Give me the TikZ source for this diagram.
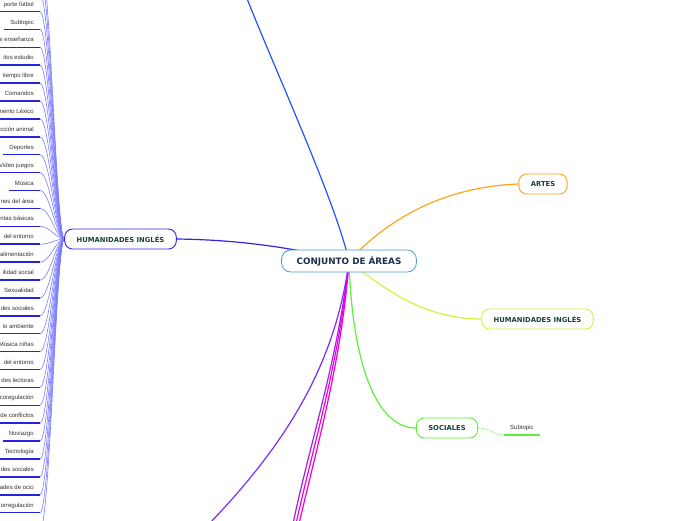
\documentclass[tikz,border=0pt]{standalone}
\usepackage{fontspec}
\setmainfont{DejaVu Sans}
\newfontfamily\subfont{Liberation Sans}
\usetikzlibrary{backgrounds}
\definecolor{rootline}{HTML}{4A9AD8}
\definecolor{roottext}{HTML}{1C2E4A}
\definecolor{topictext}{HTML}{17423A}
\definecolor{subtext}{HTML}{333333}
\definecolor{humblue}{HTML}{3322E8}
\definecolor{topblue}{HTML}{1F55FF}
\definecolor{artorange}{HTML}{FFA31A}
\definecolor{humyellow}{HTML}{D6F23A}
\definecolor{socgreen}{HTML}{5CF03A}
\definecolor{twigblue}{HTML}{7C7CFF}
\definecolor{subblue}{HTML}{2424E0}
\definecolor{magline}{HTML}{F000D8}
\definecolor{violine}{HTML}{7B2CFF}

\begin{document}
\begin{tikzpicture}[
  x=1pt,y=-1pt,
  root/.style={draw=rootline,line width=.8pt,fill=white,rounded corners=9pt,inner xsep=15pt,minimum height=22pt,text=roottext,font=\bfseries\fontsize{8.8}{10}\selectfont},
  topic/.style={draw,line width=.9pt,fill=white,rounded corners=8pt,inner xsep=12pt,minimum height=20pt,text=topictext,font=\bfseries\fontsize{6.8}{8}\selectfont},
  sub/.style={inner xsep=6pt,inner ysep=4pt,text height=4.4pt,text depth=1.2pt,text=subtext,font=\subfont\fontsize{6}{7}\selectfont},
  branch/.style={line width=1.2pt},
  twig/.style={line width=.6pt,draw=twigblue},
  subline/.style={line width=1.5pt,draw=subblue}
]
  \useasboundingbox (0,0) rectangle (696,520);

  \node[root] (root) at (349,261) {CONJUNTO DE ÁREAS};
  \node[topic,draw=humblue] (hum) at (120.5,239) {HUMANIDADES INGLÉS};
  \node[topic,draw=artorange] (art) at (543,184) {ARTES};
  \node[topic,draw=humyellow] (humr) at (537.5,319) {HUMANIDADES INGLÉS};
  \node[topic,draw=socgreen] (soc) at (447,428) {SOCIALES};
  \node[sub,anchor=south west] (socsub) at (504,435) {Subtopic};
  \draw[subline,draw=socgreen] (socsub.south west) -- (socsub.south east);

  \foreach \t [count=\i] in {porte fútbol,Subtopic,e enseñanza,itos estudio,tiempo libre,Comandos,mento Léxico,cción animal,Deportes,Video juegos,Música,nes del área,ritas básicas,del entorno,alimentación,ilidad social,Sexualidad,des sociales,io ambiente,Música niñas,del entorno,des lectoras,coregulación,de conflictos,Noviazgo,Tecnología,des sociales,ades de ocio,orregulación}
  {
    \node[sub,anchor=south east] (s\i) at (40,{11.5+17.9*(\i-1)}) {\t};
    \draw[subline] (s\i.south west) -- (s\i.south east);
  }

  \coordinate (offtop1) at (40,-6);
  \coordinate (offtop2) at (40,-24);
  \coordinate (offtop3) at (40,-42);
  \coordinate (offbot) at (40,530);
  \coordinate (topend) at (246,-4);
  \coordinate (vioend) at (209,524);
  \coordinate (mag1) at (293,524);
  \coordinate (mag2) at (296,524);
  \coordinate (mag3) at (299,524);

  \begin{scope}[on background layer]
    \fill[white] (0,0) rectangle (696,520);
    \foreach \i in {1,...,29}
      \draw[twig] (s\i.south east) .. controls +(10,0) and +(-8,0) .. (hum.west);
    \foreach \c in {offtop1,offtop2,offtop3,offbot}
      \draw[twig] (\c) .. controls +(10,0) and +(-8,0) .. (hum.west);
    \draw[twig,draw=socgreen!60] (soc.east) .. controls +(14,0) and +(-12,0) .. (socsub.south west);
    \draw[branch,draw=topblue] (root.center) .. controls (335,200) and (275,70) .. (topend);
    \draw[branch,draw=humblue] (hum.east) .. controls (250,240) and (300,250) .. (root.center);
    \draw[branch,draw=artorange] (root.center) .. controls (385,222) and (440,187) .. (art.west);
    \draw[branch,draw=humyellow] (root.center) .. controls (385,290) and (425,319) .. (humr.west);
    \draw[branch,draw=socgreen] (root.center) .. controls (352,360) and (375,428) .. (soc.west);
    \draw[branch,draw=violine] (root.center) .. controls (335,370) and (280,450) .. (vioend);
    \draw[branch,draw=violine!60!magline] (root.center) .. controls (338,360) and (308,450) .. (mag1);
    \draw[branch,draw=magline] (root.center) .. controls (340,360) and (312,450) .. (mag2);
    \draw[branch,draw=magline] (root.center) .. controls (342,360) and (316,450) .. (mag3);
  \end{scope}
\end{tikzpicture}
\end{document}
